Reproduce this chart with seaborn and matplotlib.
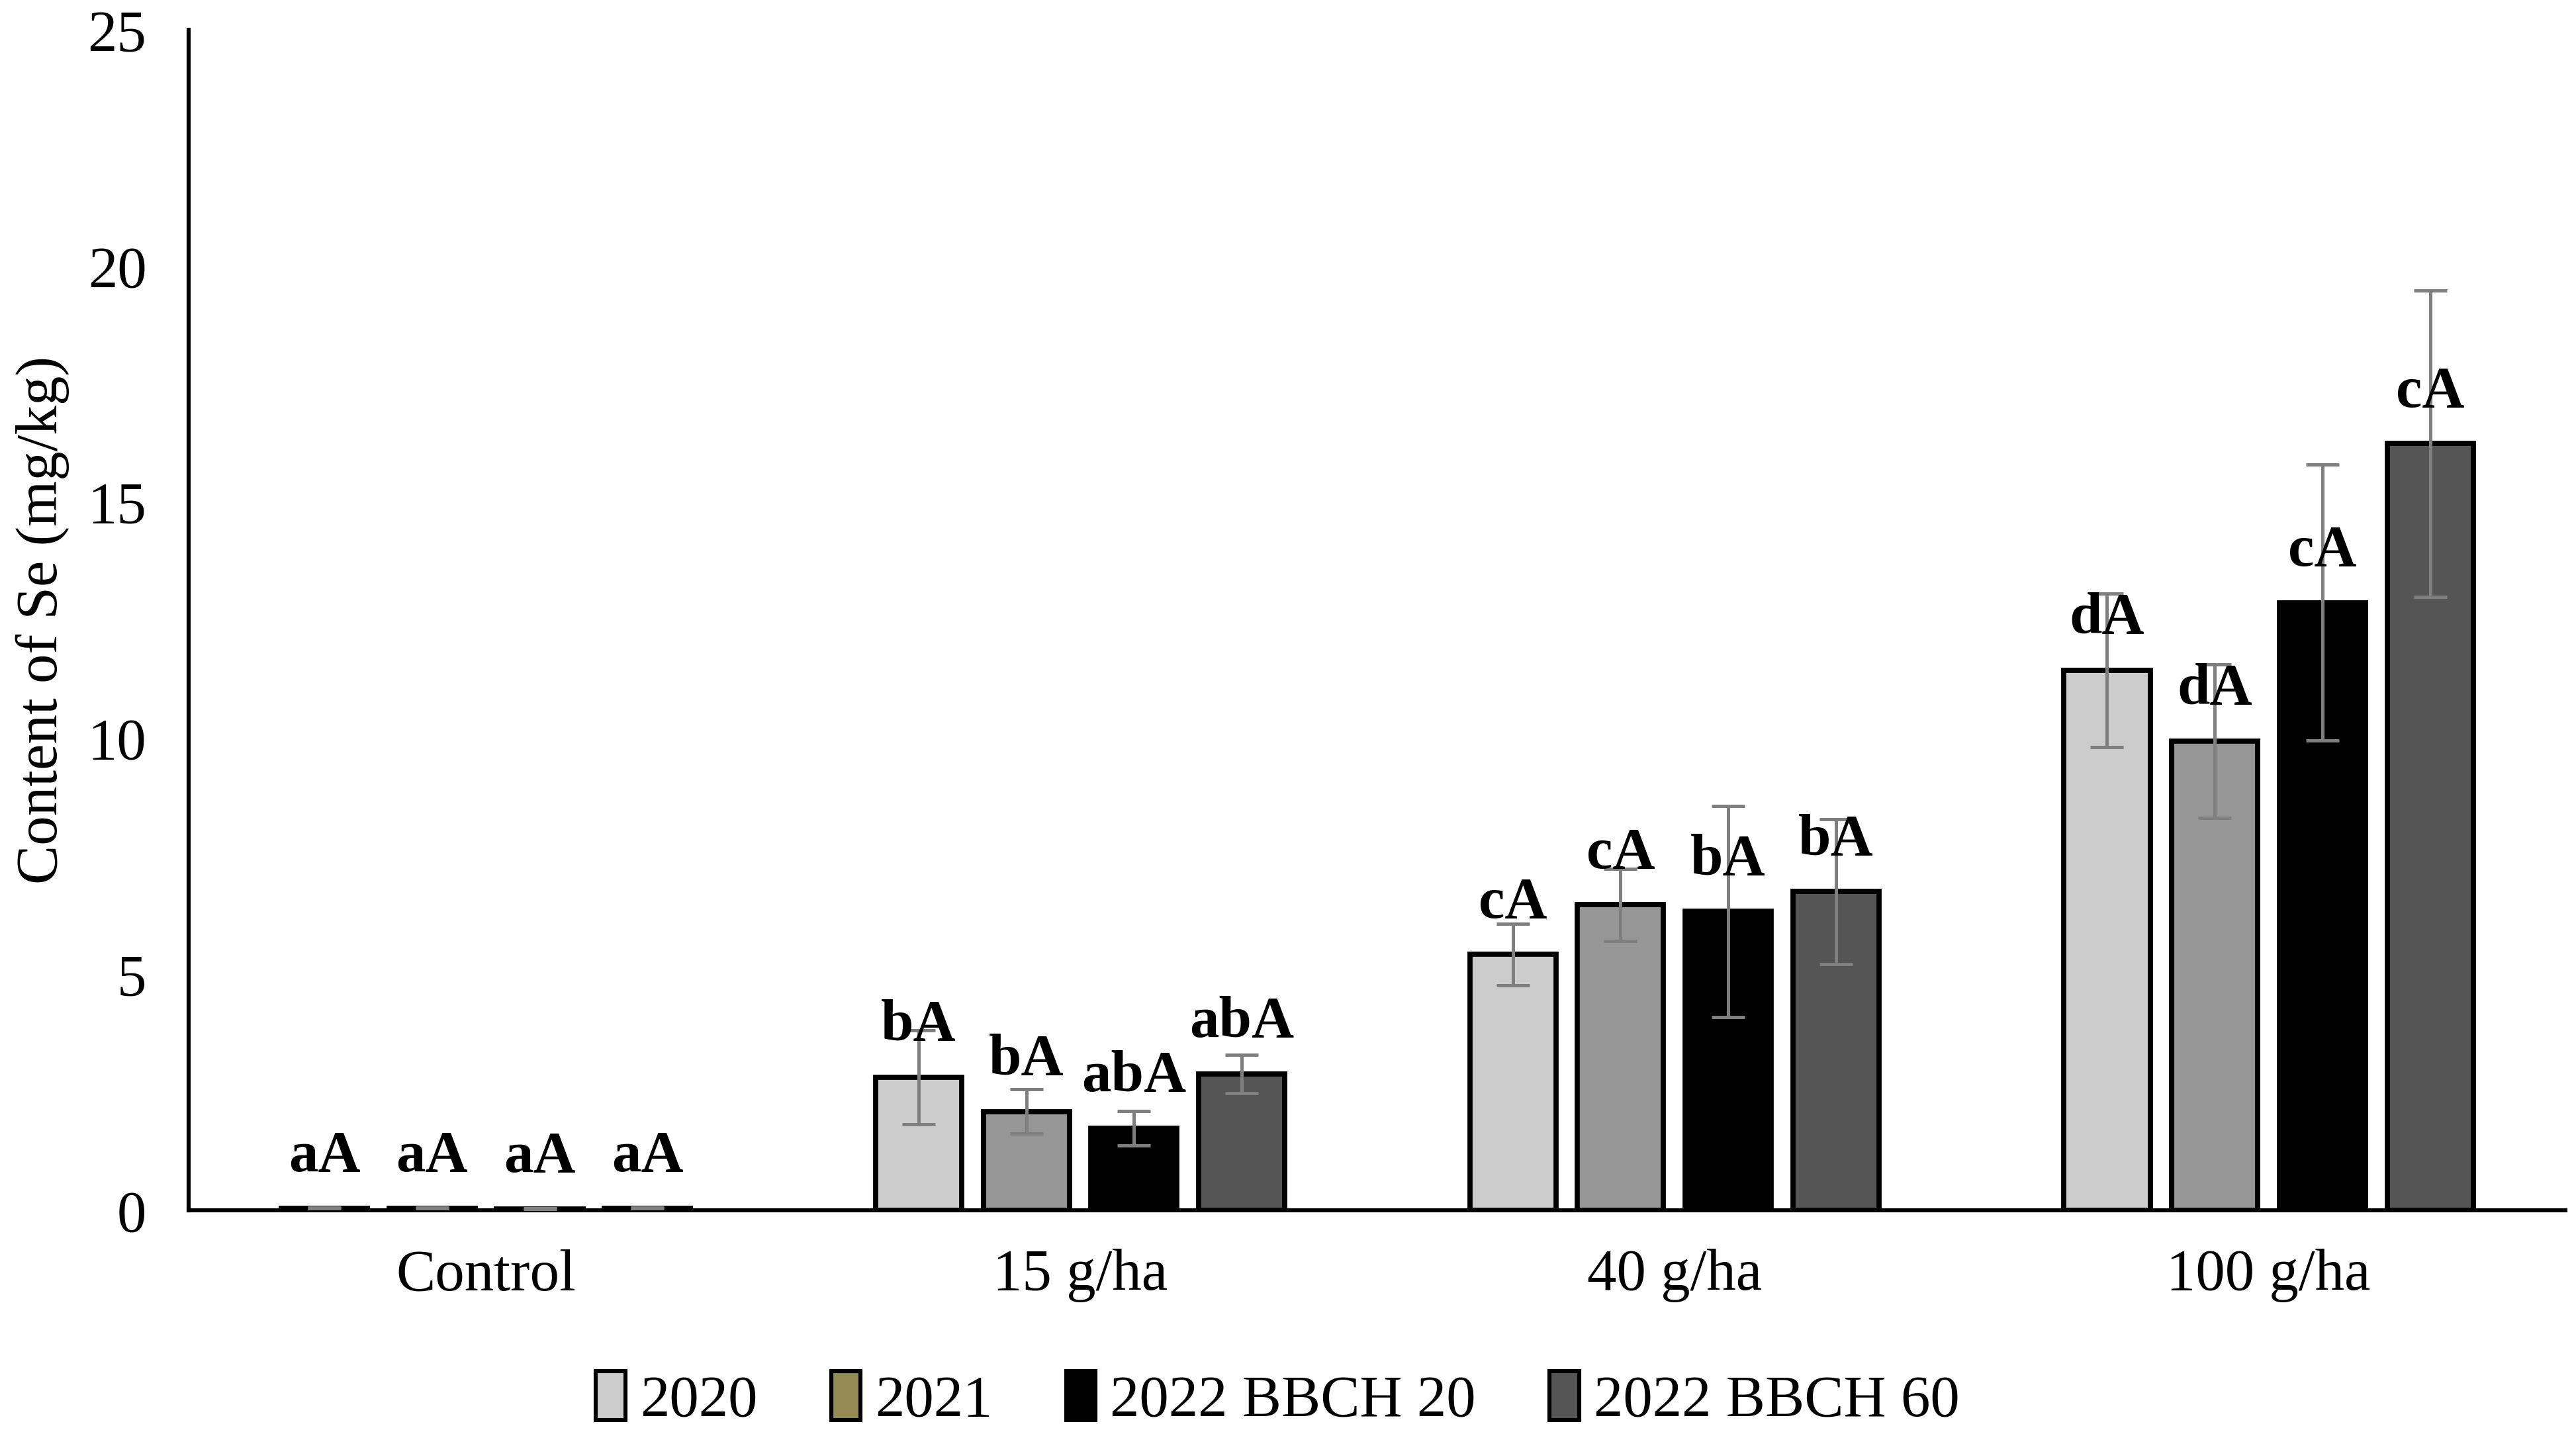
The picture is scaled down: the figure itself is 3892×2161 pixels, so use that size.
import pandas as pd
import seaborn as sns
import matplotlib.pyplot as plt
from matplotlib.patches import Patch
from matplotlib.container import BarContainer

# Data
doses = ['Control', '15 g/ha', '40 g/ha', '100 g/ha']
seasons = ['2020', '2021', '2022 BBCH 20', '2022 BBCH 60']

se_2020 = [0.05, 2.82, 5.42, 11.44]
se_2021 = [0.05, 2.09, 6.47, 9.94]
se_bbch20 = [0.03, 1.74, 6.33, 12.87]
se_bbch60 = [0.05, 2.89, 6.75, 16.24]

sd_2020 = [0.01, 1.00, 0.65, 1.63]
sd_2021 = [0.01, 0.47, 0.76, 1.63]
sd_bbch20 = [0.01, 0.36, 2.23, 2.92]
sd_bbch60 = [0.01, 0.41, 1.53, 3.25]

letters_2020 = ['aA', 'bA', 'cA', 'dA']
letters_2021 = ['aA', 'bA', 'cA', 'dA']
letters_bbch20 = ['aA', 'abA', 'bA', 'cA']
letters_bbch60 = ['aA', 'abA', 'bA', 'cA']

bar_colors = ['#cccccc', '#969696', '#000000', '#555555']
legend_colors = ['#cccccc', '#948a54', '#000000', '#555555']

values = [se_2020, se_2021, se_bbch20, se_bbch60]
errors = [sd_2020, sd_2021, sd_bbch20, sd_bbch60]
letters = [letters_2020, letters_2021, letters_bbch20, letters_bbch60]

rows = []
for s, v in zip(seasons, values):
    for d, val in zip(doses, v):
        rows.append({'Dose': d, 'Season': s, 'Se': val})
df = pd.DataFrame(rows)

sns.set_style('white')
plt.rcParams['font.family'] = ['Liberation Serif', 'DejaVu Serif']
plt.rcParams['text.color'] = 'black'
plt.rcParams['axes.labelcolor'] = 'black'
plt.rcParams['xtick.color'] = 'black'
plt.rcParams['ytick.color'] = 'black'

FS = 32

fig = plt.figure(figsize=(19.46, 10.805), dpi=200)
ax = fig.add_axes([0.0733, 0.1536, 0.9227, 0.8254])

sns.barplot(
    data=df, x='Dose', y='Se', hue='Season',
    order=doses, hue_order=seasons,
    palette=bar_colors, width=0.725, gap=0.2,
    edgecolor='black', linewidth=2.8,
    errorbar=None, legend=False, ax=ax
)

# Error bars + letters
bar_groups = [c for c in ax.containers if isinstance(c, BarContainer)]
for i, cont in enumerate(bar_groups):
    for j, bar in enumerate(cont.patches):
        xc = bar.get_x() + bar.get_width() / 2
        h = bar.get_height()
        ax.errorbar(xc, h, yerr=errors[i][j], fmt='none',
                    ecolor='#7f7f7f', elinewidth=1.8, capsize=9,
                    capthick=1.8, zorder=5)
        ax.annotate(letters[i][j], (xc, h), xytext=(0, 20),
                    textcoords='offset points', ha='center',
                    va='baseline', fontsize=FS, fontweight='bold',
                    color='black', zorder=6)

ax.set_xlim(-0.5, 3.5)
ax.set_ylim(0, 25)
ax.set_yticks([0, 5, 10, 15, 20, 25])
ax.set_xlabel('')
ax.set_ylabel('Content of Se (mg/kg)', fontsize=FS, labelpad=10)

for side in ['top', 'right']:
    ax.spines[side].set_visible(False)
for side in ['left', 'bottom']:
    ax.spines[side].set_color('black')
    ax.spines[side].set_linewidth(2.2)

ax.set_xticks([3.5], minor=True)
ax.tick_params(axis='both', which='both', direction='out', length=9,
               width=2.2, color='black', labelsize=FS)
ax.tick_params(axis='x', pad=12)
ax.tick_params(axis='y', pad=14)

handles = [Patch(facecolor=c, edgecolor='black', linewidth=2.2, label=s)
           for c, s in zip(legend_colors, seasons)]
fig.legend(handles=handles, loc='center', bbox_to_anchor=(0.496, 0.021),
           ncol=4, frameon=False, fontsize=FS, handlelength=0.5,
           handleheight=0.9, handletextpad=0.25, columnspacing=1.25)

fig.savefig('out.png', dpi=200)
